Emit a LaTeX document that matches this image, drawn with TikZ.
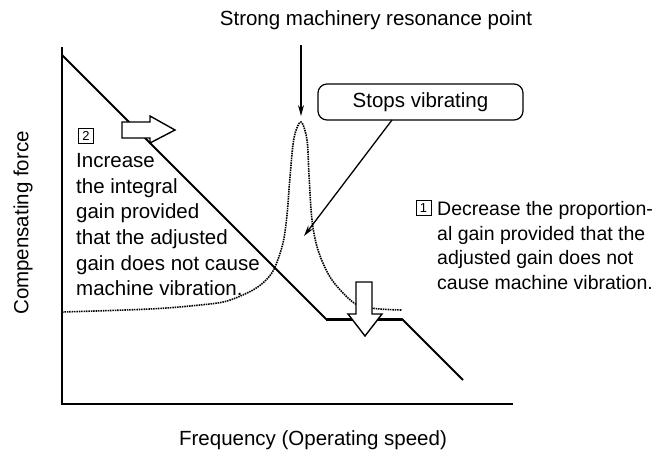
\documentclass[tikz,border=0pt]{standalone}
\usepackage{fontspec}
\setmainfont{Liberation Sans}
\usetikzlibrary{arrows.meta}
\begin{document}
\begin{tikzpicture}[x=1pt,y=-1pt,
  font=\fontsize{20.5}{25.7}\selectfont,
  axis/.style={line width=2pt},
  gainline/.style={line width=1.8pt, line join=round},
  curve/.style={dash pattern=on 1.5pt off 0.9pt, line width=1.6pt},
  hollow/.style={draw, fill=white, line width=1.4pt, line join=miter},
  pointer/.style={line width=1.3pt, -{Stealth[length=11pt,width=6pt]}},
  numbox/.style={draw, line width=0.8pt, minimum width=15pt, minimum height=15pt, inner sep=0pt, font=\fontsize{13}{13}\selectfont},
  label/.style={inner sep=0pt},
  para/.style={inner sep=0pt, anchor=north west, align=left}]
\useasboundingbox (0,0) rectangle (662,459);
% axes
\coordinate (ytop) at (62,47);
\coordinate (org) at (62,404);
\coordinate (xend) at (513,404);
\draw[axis] (ytop) -- (org) -- (xend);
% gain line
\coordinate (g0) at (62,55);
\coordinate (g1) at (326,319);
\coordinate (g2) at (402,319);
\coordinate (g3) at (463,380);
\draw[gainline] (g0) -- (g1) -- (g2) -- (g3);
\draw[line width=3pt] (g1) -- (g2);
% resonance curve
\draw[curve] plot[smooth, tension=0.55] coordinates {
 (62,312) (150,309) (200,305) (227,301) (253,290) (267,279) (275,267)
 (283,243) (287,215) (290,177) (294,138) (301,122) (307,140) (309,175)
 (312,220) (318,250) (330,277) (347,297) (360,306) (380,309) (402,310)};
% hollow arrows
\draw[hollow] (122,122) -- (150,122) -- (150,116) -- (175,130) -- (150,143) -- (150,138) -- (122,138) -- cycle;
\draw[hollow] (356,282) -- (372,282) -- (372,314) -- (382,314) -- (365,336) -- (348,314) -- (356,314) -- cycle;
% texts
\node[label] (title) at (376,20) {Strong machinery resonance point};
\coordinate (peak) at (301,116);
\draw[pointer] (301,45) -- (peak);
\node[draw, line width=1.2pt, rounded corners=9pt, minimum width=205pt, minimum height=36pt, inner sep=0pt] (stops) at (420.5,102) {Stops vibrating};
\coordinate (stopsfoot) at (392,120);
\coordinate (stopstip) at (304,236);
\draw[pointer] (stopsfoot) -- (stopstip);
\node[numbox] (n2) at (86,136) {2};
\node[para] (p2) at (76,153) {Increase\\the integral\\gain provided\\that the adjusted\\gain does not cause\\machine vibration.};
\node[numbox] (n1) at (423.5,208) {1};
\node[para, font=\fontsize{19.5}{24.8}\selectfont] (p1) at (437,201) {Decrease the proportion-\\al gain provided that the\\adjusted gain does not\\cause machine vibration.};
\node[label, rotate=90] (ylab) at (23,223) {Compensating force};
\node[label] (xlab) at (313,440) {Frequency (Operating speed)};
\end{tikzpicture}
\end{document}
